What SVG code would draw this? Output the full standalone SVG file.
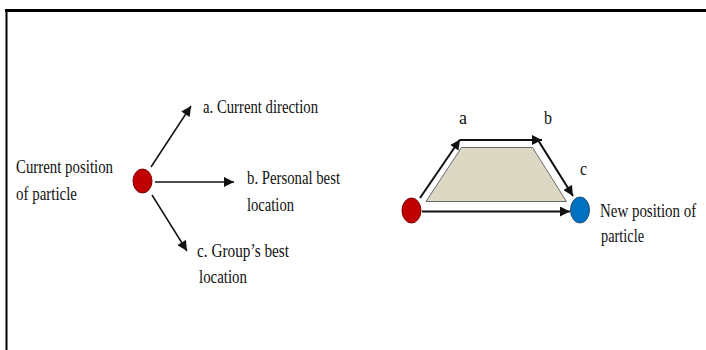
<svg xmlns="http://www.w3.org/2000/svg" width="706" height="350" viewBox="0 0 706 350">
  <defs>
    <style>
      .lbl { font-family: "Liberation Serif", "Times New Roman", serif; font-size: 18px; fill: #111; }
      .edge { stroke: #111; stroke-width: 1.5; fill: none; marker-end: url(#arrow); }
      .edge2 { stroke: #111; stroke-width: 2; fill: none; marker-end: url(#arrow); }
      .red { fill: #C00000; stroke: #7a0000; stroke-width: 1; }
      .blue { fill: #0070C0; stroke: #1f4e79; stroke-width: 1; }
    </style>
    <marker id="arrow" viewBox="0 0 10 10" refX="10" refY="5" markerWidth="11" markerHeight="10" markerUnits="userSpaceOnUse" orient="auto">
      <path d="M0,0 L10,5 L0,10 Z" fill="#111"/>
    </marker>
  </defs>

  <rect width="706" height="350" fill="#fff"/>

  <!-- frame -->
  <g id="frame">
    <line x1="5" y1="10.5" x2="706" y2="10.5" stroke="#000" stroke-width="3"/>
    <line x1="6.5" y1="9" x2="6.5" y2="350" stroke="#000" stroke-width="2"/>
  </g>

  <!-- left: choices at the current position -->
  <g id="current-particle">
    <ellipse class="red" cx="142.5" cy="181" rx="9.5" ry="12"/>
    <text class="lbl" x="16" y="173" textLength="97" lengthAdjust="spacingAndGlyphs">Current position</text>
    <text class="lbl" x="16" y="200" textLength="61" lengthAdjust="spacingAndGlyphs">of particle</text>
  </g>
  <g id="choice-a">
    <text class="lbl" x="203" y="113" textLength="115" lengthAdjust="spacingAndGlyphs">a. Current direction</text>
  </g>
  <g id="choice-b">
    <text class="lbl" x="247" y="184" textLength="93" lengthAdjust="spacingAndGlyphs">b. Personal best</text>
    <text class="lbl" x="247" y="211" textLength="47" lengthAdjust="spacingAndGlyphs">location</text>
  </g>
  <g id="choice-c">
    <text class="lbl" x="197" y="257" textLength="92" lengthAdjust="spacingAndGlyphs">c. Group’s best</text>
    <text class="lbl" x="199" y="283" textLength="48" lengthAdjust="spacingAndGlyphs">location</text>
  </g>

  <!-- right: combined move -->
  <g id="velocity-area">
    <polygon points="461.5,147.5 532.5,147.5 566.5,201.5 426,201.5" fill="#DDD8C4" stroke="#6b6b6b" stroke-width="1"/>
  </g>
  <g id="start-particle">
    <ellipse class="red" cx="411.5" cy="210.5" rx="9.5" ry="12.5"/>
  </g>
  <g id="new-particle">
    <ellipse class="blue" cx="580" cy="210" rx="9.5" ry="13"/>
    <!-- condensed by a horizontal scale so it stays inside the right edge -->
    <text class="lbl" transform="translate(600 217) scale(0.83 1)">New position of</text>
    <text class="lbl" x="601" y="242" textLength="43" lengthAdjust="spacingAndGlyphs">particle</text>
  </g>
  <g id="step-labels">
    <text class="lbl" x="459" y="124" textLength="8" lengthAdjust="spacingAndGlyphs">a</text>
    <text class="lbl" x="544" y="124" textLength="8" lengthAdjust="spacingAndGlyphs">b</text>
    <text class="lbl" x="580" y="175" textLength="7" lengthAdjust="spacingAndGlyphs">c</text>
  </g>

  <g id="connectors">
    <line class="edge" x1="151" y1="167" x2="191" y2="106"/>
    <line class="edge" x1="155" y1="182" x2="234" y2="182"/>
    <line class="edge" x1="152" y1="195" x2="187" y2="251"/>

    <line class="edge2" x1="420" y1="198" x2="460" y2="139.5"/>
    <line class="edge2" x1="460" y1="140" x2="542" y2="140"/>
    <line class="edge2" x1="538" y1="140" x2="573" y2="196"/>
    <line class="edge2" x1="422" y1="211.5" x2="570" y2="211.5"/>
  </g>
</svg>
